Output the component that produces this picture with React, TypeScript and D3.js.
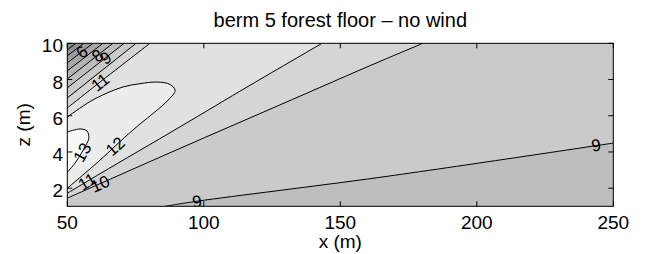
import * as d3 from "d3";

const W = 649;
const H = 254;

const titleText = "berm 5 forest floor – no wind";
const xTicks = [50, 100, 150, 200, 250];
const yTicks = [2, 4, 6, 8, 10];

// contour lines, as [x (m), z (m)] points
// upper-left corner: value falls toward the corner
const c4 = [[50, 9.64], [53.2, 10]];
const c5 = [[50, 9.31], [56.1, 10]];
const c6 = [[50, 8.92], [59.4, 10]];
const c7 = [[50, 8.48], [63.1, 10]];
const c8 = [[50, 8.03], [66.7, 10]];
const c9Upper = [[50, 7.54], [70.8, 10]];
const c10Upper = [[50, 6.98], [75.2, 10]];
const c11Upper = [[50, 6.43], [62, 7.86], [80.3, 10]];
// lower branches, fanning out to the right
const c9Lower = [[85.8, 1], [97.5, 1.28], [164.5, 2.6], [250, 4.49]];
const c10Lower = [[50, 1.45], [62, 2.25], [91.3, 4.2], [127.9, 6.6], [164.5, 9.0], [180.3, 10]];
const c11Lower = [[50, 1.72], [62, 2.8], [91.3, 5.39], [116.9, 7.68], [143.3, 10]];
// closed against the left edge
const c12 = [
  [50, 5.93], [58.3, 6.78], [64.5, 7.25], [70.4, 7.59], [76.6, 7.77], [82.9, 7.86],
  [87.6, 7.73], [89.5, 7.4], [87.0, 6.87], [82.1, 6.21], [76.6, 5.54], [71.1, 4.82],
  [67.5, 4.32], [62.0, 3.55], [56.5, 2.83], [50, 2.0],
];
const c13 = [
  [50, 5.1], [54.65, 5.27], [57.2, 5.16], [57.9, 4.77], [56.85, 4.38], [55.4, 3.99],
  [52.8, 3.38], [50, 2.88],
];

const cornerLevels = [4, 5, 6, 7, 8];
const cornerLines = [c4, c5, c6, c7, c8];

// inline contour labels
const labelText = ["6", "8", "9", "11", "13", "12", "11", "10", "9", "9"];
const labelX = [55.3, 61, 64, 62, 55.4, 67.5, 57.2, 62, 97.5, 243.7];
const labelZ = [9.53, 9.33, 9.2, 7.86, 3.99, 4.32, 2.37, 2.25, 1.28, 4.38];

const x = d3.scaleLinear().domain([50, 250]).range([67.3, 613.3]);
const y = d3.scaleLinear().domain([1, 10]).range([206.3, 43.3]);
const shade = d3.scaleLinear<string>().domain([8, 12]).range(["#bebebe", "#ececec"]);

const line = d3
  .line<number[]>()
  .x((d) => x(d[0]))
  .y((d) => y(d[1]))
  .curve(d3.curveCatmullRom.alpha(0.5));

const cont = (pts: number[][]) => (line(pts) as string).replace(/^M/, "L");
const pt = (a: number, b: number) => `L${x(a)},${y(b)}`;
const rev = (pts: number[][]) => pts.slice().reverse();

const allLines = [...cornerLines, c9Upper, c10Upper, c11Upper, c9Lower, c10Lower, c11Lower, c12, c13];

function labelAngle(lx: number, lz: number) {
  const px = x(lx);
  const py = y(lz);
  let best = Infinity;
  let ang = 0;
  allLines.forEach((ln) => {
    for (let i = 0; i < ln.length - 1; i++) {
      const ax = x(ln[i][0]), ay = y(ln[i][1]);
      const bx = x(ln[i + 1][0]), by = y(ln[i + 1][1]);
      const dx = bx - ax, dy = by - ay;
      const t = Math.max(0, Math.min(1, ((px - ax) * dx + (py - ay) * dy) / (dx * dx + dy * dy)));
      const d = Math.hypot(ax + t * dx - px, ay + t * dy - py);
      if (d < best) {
        best = d;
        let a = (Math.atan2(dy, dx) * 180) / Math.PI;
        if (a > 90) a -= 180;
        if (a < -90) a += 180;
        ang = a;
      }
    }
  });
  return ang;
}

export default function App() {
  const x0 = x(50), x1 = x(250), y0 = y(10), y1 = y(1);
  const font = "'Liberation Sans', Arial, Helvetica, sans-serif";

  const fills: { d: string; c: string }[] = [];
  fills.push({ d: `M${x0},${y0}H${x1}V${y1}H${x0}Z`, c: shade(3) });
  cornerLines.forEach((ln, i) => {
    fills.push({ d: (line(ln) as string) + pt(250, 10) + pt(250, 1) + pt(50, 1) + "Z", c: shade(cornerLevels[i]) });
  });
  fills.push({ d: (line(c9Upper) as string) + pt(250, 10) + cont(rev(c9Lower)) + pt(50, 1) + "Z", c: shade(9) });
  fills.push({ d: (line(c10Upper) as string) + cont(rev(c10Lower)) + "Z", c: shade(10) });
  fills.push({ d: (line(c11Upper) as string) + cont(rev(c11Lower)) + "Z", c: shade(11) });
  fills.push({ d: (line(c12) as string) + "Z", c: shade(12) });
  fills.push({ d: (line(c13) as string) + "Z", c: shade(13) });

  return (
    <svg width={W} height={H} style={{ position: "absolute", left: 0, top: 0, background: "#fff" }} fontFamily={font}>
      <defs>
        <clipPath id="plot">
          <rect x={x0} y={y0} width={x1 - x0} height={y1 - y0} />
        </clipPath>
      </defs>
      <g clipPath="url(#plot)">
        {fills.map((f, i) => (
          <path key={i} d={f.d} fill={f.c} stroke="none" />
        ))}
        {allLines.map((ln, i) => (
          <path key={i} d={line(ln) as string} fill="none" stroke="#000" strokeWidth={1} />
        ))}
        {labelText.map((t, i) => {
          const a = labelAngle(labelX[i], labelZ[i]);
          return (
            <text
              key={i}
              transform={`translate(${x(labelX[i])},${y(labelZ[i])}) rotate(${a})`}
              textAnchor="middle"
              dy="0.36em"
              fontSize={17}
              fill="#000"
            >
              {t}
            </text>
          );
        })}
      </g>
      <rect x={x0} y={y0} width={x1 - x0} height={y1 - y0} fill="none" stroke="#000" strokeWidth={1} />
      {xTicks.map((v) => (
        <g key={v}>
          <line x1={x(v)} x2={x(v)} y1={y1} y2={y1 - 5} stroke="#000" />
          <line x1={x(v)} x2={x(v)} y1={y0} y2={y0 + 5} stroke="#000" />
          <text x={x(v)} y={228.5} textAnchor="middle" fontSize={19}>
            {v}
          </text>
        </g>
      ))}
      {yTicks.map((v) => (
        <g key={v}>
          <line x1={x0} x2={x0 + 5} y1={y(v)} y2={y(v)} stroke="#000" />
          <line x1={x1} x2={x1 - 5} y1={y(v)} y2={y(v)} stroke="#000" />
          <text x={63} y={y(v) + 9} textAnchor="end" fontSize={19}>
            {v}
          </text>
        </g>
      ))}
      <text x={340.3} y={26.5} textAnchor="middle" fontSize={20}>
        {titleText}
      </text>
      <text x={340.3} y={247.5} textAnchor="middle" fontSize={19}>
        x (m)
      </text>
      <text transform={`translate(29.5,124.8) rotate(-90)`} textAnchor="middle" fontSize={19}>
        z (m)
      </text>
    </svg>
  );
}
